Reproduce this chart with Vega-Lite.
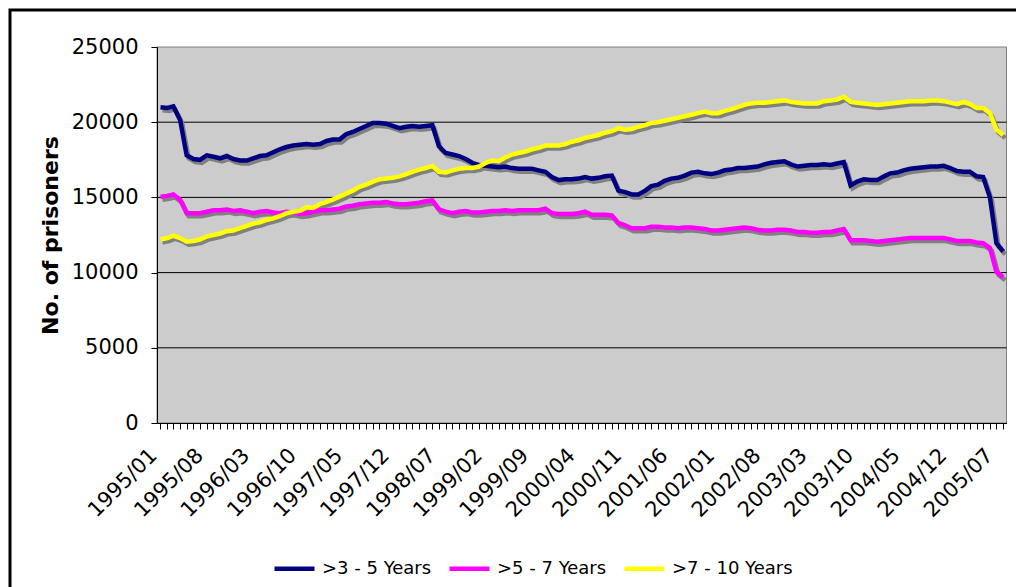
{
  "$schema": "https://vega.github.io/schema/vega-lite/v6.json",
  "width": 1030,
  "height": 600,
  "padding": {"left": 10, "top": 10, "right": 0, "bottom": 0},
  "config": {
    "font": "DejaVu Sans",
    "view": {"stroke": "#000000", "strokeWidth": 3, "fill": "#ffffff"}
  },
  "datasets": {
    "gridlines": [{"level": 5000}, {"level": 10000}, {"level": 15000}, {"level": 20000}],
    "prisoners": [
      {"month":"1995-01",">3 - 5 Years":21000,">5 - 7 Years":15050,">7 - 10 Years":12200},
      {"month":"1995-02",">3 - 5 Years":20950,">5 - 7 Years":15100,">7 - 10 Years":12300},
      {"month":"1995-03",">3 - 5 Years":21050,">5 - 7 Years":15200,">7 - 10 Years":12450},
      {"month":"1995-04",">3 - 5 Years":20150,">5 - 7 Years":14850,">7 - 10 Years":12300},
      {"month":"1995-05",">3 - 5 Years":17800,">5 - 7 Years":13950,">7 - 10 Years":12050},
      {"month":"1995-06",">3 - 5 Years":17550,">5 - 7 Years":13950,">7 - 10 Years":12100},
      {"month":"1995-07",">3 - 5 Years":17500,">5 - 7 Years":13950,">7 - 10 Years":12200},
      {"month":"1995-08",">3 - 5 Years":17800,">5 - 7 Years":14050,">7 - 10 Years":12400},
      {"month":"1995-09",">3 - 5 Years":17700,">5 - 7 Years":14150,">7 - 10 Years":12500},
      {"month":"1995-10",">3 - 5 Years":17600,">5 - 7 Years":14150,">7 - 10 Years":12600},
      {"month":"1995-11",">3 - 5 Years":17750,">5 - 7 Years":14200,">7 - 10 Years":12750},
      {"month":"1995-12",">3 - 5 Years":17550,">5 - 7 Years":14100,">7 - 10 Years":12800},
      {"month":"1996-01",">3 - 5 Years":17450,">5 - 7 Years":14150,">7 - 10 Years":12950},
      {"month":"1996-02",">3 - 5 Years":17450,">5 - 7 Years":14050,">7 - 10 Years":13100},
      {"month":"1996-03",">3 - 5 Years":17600,">5 - 7 Years":13950,">7 - 10 Years":13250},
      {"month":"1996-04",">3 - 5 Years":17750,">5 - 7 Years":14050,">7 - 10 Years":13350},
      {"month":"1996-05",">3 - 5 Years":17800,">5 - 7 Years":14100,">7 - 10 Years":13500},
      {"month":"1996-06",">3 - 5 Years":18000,">5 - 7 Years":14000,">7 - 10 Years":13600},
      {"month":"1996-07",">3 - 5 Years":18200,">5 - 7 Years":13950,">7 - 10 Years":13750},
      {"month":"1996-08",">3 - 5 Years":18350,">5 - 7 Years":14050,">7 - 10 Years":13950},
      {"month":"1996-09",">3 - 5 Years":18450,">5 - 7 Years":14000,">7 - 10 Years":14050},
      {"month":"1996-10",">3 - 5 Years":18500,">5 - 7 Years":13900,">7 - 10 Years":14100},
      {"month":"1996-11",">3 - 5 Years":18550,">5 - 7 Years":13950,">7 - 10 Years":14350},
      {"month":"1996-12",">3 - 5 Years":18500,">5 - 7 Years":14050,">7 - 10 Years":14300},
      {"month":"1997-01",">3 - 5 Years":18550,">5 - 7 Years":14150,">7 - 10 Years":14550},
      {"month":"1997-02",">3 - 5 Years":18750,">5 - 7 Years":14150,">7 - 10 Years":14700},
      {"month":"1997-03",">3 - 5 Years":18850,">5 - 7 Years":14200,">7 - 10 Years":14850},
      {"month":"1997-04",">3 - 5 Years":18850,">5 - 7 Years":14250,">7 - 10 Years":15050},
      {"month":"1997-05",">3 - 5 Years":19200,">5 - 7 Years":14400,">7 - 10 Years":15250},
      {"month":"1997-06",">3 - 5 Years":19350,">5 - 7 Years":14450,">7 - 10 Years":15450},
      {"month":"1997-07",">3 - 5 Years":19550,">5 - 7 Years":14550,">7 - 10 Years":15700},
      {"month":"1997-08",">3 - 5 Years":19750,">5 - 7 Years":14600,">7 - 10 Years":15850},
      {"month":"1997-09",">3 - 5 Years":19950,">5 - 7 Years":14650,">7 - 10 Years":16050},
      {"month":"1997-10",">3 - 5 Years":19950,">5 - 7 Years":14650,">7 - 10 Years":16200},
      {"month":"1997-11",">3 - 5 Years":19900,">5 - 7 Years":14700,">7 - 10 Years":16250},
      {"month":"1997-12",">3 - 5 Years":19750,">5 - 7 Years":14600,">7 - 10 Years":16300},
      {"month":"1998-01",">3 - 5 Years":19600,">5 - 7 Years":14550,">7 - 10 Years":16400},
      {"month":"1998-02",">3 - 5 Years":19700,">5 - 7 Years":14550,">7 - 10 Years":16550},
      {"month":"1998-03",">3 - 5 Years":19750,">5 - 7 Years":14600,">7 - 10 Years":16700},
      {"month":"1998-04",">3 - 5 Years":19700,">5 - 7 Years":14650,">7 - 10 Years":16850},
      {"month":"1998-05",">3 - 5 Years":19750,">5 - 7 Years":14750,">7 - 10 Years":16950},
      {"month":"1998-06",">3 - 5 Years":19800,">5 - 7 Years":14800,">7 - 10 Years":17100},
      {"month":"1998-07",">3 - 5 Years":18400,">5 - 7 Years":14200,">7 - 10 Years":16700},
      {"month":"1998-08",">3 - 5 Years":17950,">5 - 7 Years":14050,">7 - 10 Years":16650},
      {"month":"1998-09",">3 - 5 Years":17850,">5 - 7 Years":13950,">7 - 10 Years":16800},
      {"month":"1998-10",">3 - 5 Years":17750,">5 - 7 Years":14050,">7 - 10 Years":16900},
      {"month":"1998-11",">3 - 5 Years":17550,">5 - 7 Years":14100,">7 - 10 Years":16950},
      {"month":"1998-12",">3 - 5 Years":17300,">5 - 7 Years":14000,">7 - 10 Years":16950},
      {"month":"1999-01",">3 - 5 Years":17150,">5 - 7 Years":14000,">7 - 10 Years":17050},
      {"month":"1999-02",">3 - 5 Years":17100,">5 - 7 Years":14050,">7 - 10 Years":17300},
      {"month":"1999-03",">3 - 5 Years":17050,">5 - 7 Years":14100,">7 - 10 Years":17450},
      {"month":"1999-04",">3 - 5 Years":17000,">5 - 7 Years":14100,">7 - 10 Years":17400},
      {"month":"1999-05",">3 - 5 Years":17050,">5 - 7 Years":14150,">7 - 10 Years":17650},
      {"month":"1999-06",">3 - 5 Years":16950,">5 - 7 Years":14100,">7 - 10 Years":17850},
      {"month":"1999-07",">3 - 5 Years":16900,">5 - 7 Years":14150,">7 - 10 Years":17950},
      {"month":"1999-08",">3 - 5 Years":16900,">5 - 7 Years":14150,">7 - 10 Years":18050},
      {"month":"1999-09",">3 - 5 Years":16900,">5 - 7 Years":14150,">7 - 10 Years":18200},
      {"month":"1999-10",">3 - 5 Years":16800,">5 - 7 Years":14150,">7 - 10 Years":18300},
      {"month":"1999-11",">3 - 5 Years":16700,">5 - 7 Years":14250,">7 - 10 Years":18450},
      {"month":"1999-12",">3 - 5 Years":16350,">5 - 7 Years":13950,">7 - 10 Years":18450},
      {"month":"2000-01",">3 - 5 Years":16150,">5 - 7 Years":13900,">7 - 10 Years":18450},
      {"month":"2000-02",">3 - 5 Years":16200,">5 - 7 Years":13900,">7 - 10 Years":18550},
      {"month":"2000-03",">3 - 5 Years":16200,">5 - 7 Years":13900,">7 - 10 Years":18700},
      {"month":"2000-04",">3 - 5 Years":16250,">5 - 7 Years":13950,">7 - 10 Years":18800},
      {"month":"2000-05",">3 - 5 Years":16350,">5 - 7 Years":14050,">7 - 10 Years":18950},
      {"month":"2000-06",">3 - 5 Years":16250,">5 - 7 Years":13850,">7 - 10 Years":19050},
      {"month":"2000-07",">3 - 5 Years":16300,">5 - 7 Years":13850,">7 - 10 Years":19150},
      {"month":"2000-08",">3 - 5 Years":16400,">5 - 7 Years":13850,">7 - 10 Years":19300},
      {"month":"2000-09",">3 - 5 Years":16450,">5 - 7 Years":13800,">7 - 10 Years":19400},
      {"month":"2000-10",">3 - 5 Years":15450,">5 - 7 Years":13300,">7 - 10 Years":19600},
      {"month":"2000-11",">3 - 5 Years":15350,">5 - 7 Years":13150,">7 - 10 Years":19500},
      {"month":"2000-12",">3 - 5 Years":15200,">5 - 7 Years":12950,">7 - 10 Years":19550},
      {"month":"2001-01",">3 - 5 Years":15200,">5 - 7 Years":12950,">7 - 10 Years":19700},
      {"month":"2001-02",">3 - 5 Years":15450,">5 - 7 Years":12950,">7 - 10 Years":19800},
      {"month":"2001-03",">3 - 5 Years":15750,">5 - 7 Years":13050,">7 - 10 Years":19950},
      {"month":"2001-04",">3 - 5 Years":15850,">5 - 7 Years":13050,">7 - 10 Years":20000},
      {"month":"2001-05",">3 - 5 Years":16100,">5 - 7 Years":13000,">7 - 10 Years":20100},
      {"month":"2001-06",">3 - 5 Years":16250,">5 - 7 Years":13000,">7 - 10 Years":20200},
      {"month":"2001-07",">3 - 5 Years":16300,">5 - 7 Years":12950,">7 - 10 Years":20300},
      {"month":"2001-08",">3 - 5 Years":16450,">5 - 7 Years":13000,">7 - 10 Years":20400},
      {"month":"2001-09",">3 - 5 Years":16650,">5 - 7 Years":13000,">7 - 10 Years":20500},
      {"month":"2001-10",">3 - 5 Years":16700,">5 - 7 Years":12950,">7 - 10 Years":20600},
      {"month":"2001-11",">3 - 5 Years":16600,">5 - 7 Years":12900,">7 - 10 Years":20700},
      {"month":"2001-12",">3 - 5 Years":16550,">5 - 7 Years":12800,">7 - 10 Years":20600},
      {"month":"2002-01",">3 - 5 Years":16650,">5 - 7 Years":12800,">7 - 10 Years":20600},
      {"month":"2002-02",">3 - 5 Years":16800,">5 - 7 Years":12850,">7 - 10 Years":20750},
      {"month":"2002-03",">3 - 5 Years":16850,">5 - 7 Years":12900,">7 - 10 Years":20850},
      {"month":"2002-04",">3 - 5 Years":16950,">5 - 7 Years":12950,">7 - 10 Years":21000},
      {"month":"2002-05",">3 - 5 Years":16950,">5 - 7 Years":13000,">7 - 10 Years":21150},
      {"month":"2002-06",">3 - 5 Years":17000,">5 - 7 Years":12950,">7 - 10 Years":21250},
      {"month":"2002-07",">3 - 5 Years":17050,">5 - 7 Years":12850,">7 - 10 Years":21300},
      {"month":"2002-08",">3 - 5 Years":17200,">5 - 7 Years":12800,">7 - 10 Years":21300},
      {"month":"2002-09",">3 - 5 Years":17300,">5 - 7 Years":12800,">7 - 10 Years":21350},
      {"month":"2002-10",">3 - 5 Years":17350,">5 - 7 Years":12850,">7 - 10 Years":21400},
      {"month":"2002-11",">3 - 5 Years":17400,">5 - 7 Years":12850,">7 - 10 Years":21450},
      {"month":"2002-12",">3 - 5 Years":17200,">5 - 7 Years":12800,">7 - 10 Years":21350},
      {"month":"2003-01",">3 - 5 Years":17050,">5 - 7 Years":12700,">7 - 10 Years":21300},
      {"month":"2003-02",">3 - 5 Years":17100,">5 - 7 Years":12700,">7 - 10 Years":21250},
      {"month":"2003-03",">3 - 5 Years":17150,">5 - 7 Years":12650,">7 - 10 Years":21250},
      {"month":"2003-04",">3 - 5 Years":17150,">5 - 7 Years":12650,">7 - 10 Years":21250},
      {"month":"2003-05",">3 - 5 Years":17200,">5 - 7 Years":12700,">7 - 10 Years":21400},
      {"month":"2003-06",">3 - 5 Years":17150,">5 - 7 Years":12700,">7 - 10 Years":21450},
      {"month":"2003-07",">3 - 5 Years":17250,">5 - 7 Years":12800,">7 - 10 Years":21500},
      {"month":"2003-08",">3 - 5 Years":17350,">5 - 7 Years":12900,">7 - 10 Years":21700},
      {"month":"2003-09",">3 - 5 Years":15800,">5 - 7 Years":12150,">7 - 10 Years":21350},
      {"month":"2003-10",">3 - 5 Years":16050,">5 - 7 Years":12150,">7 - 10 Years":21300},
      {"month":"2003-11",">3 - 5 Years":16200,">5 - 7 Years":12150,">7 - 10 Years":21250},
      {"month":"2003-12",">3 - 5 Years":16150,">5 - 7 Years":12100,">7 - 10 Years":21200},
      {"month":"2004-01",">3 - 5 Years":16150,">5 - 7 Years":12050,">7 - 10 Years":21150},
      {"month":"2004-02",">3 - 5 Years":16400,">5 - 7 Years":12100,">7 - 10 Years":21200},
      {"month":"2004-03",">3 - 5 Years":16600,">5 - 7 Years":12150,">7 - 10 Years":21250},
      {"month":"2004-04",">3 - 5 Years":16650,">5 - 7 Years":12200,">7 - 10 Years":21300},
      {"month":"2004-05",">3 - 5 Years":16800,">5 - 7 Years":12250,">7 - 10 Years":21350},
      {"month":"2004-06",">3 - 5 Years":16900,">5 - 7 Years":12300,">7 - 10 Years":21400},
      {"month":"2004-07",">3 - 5 Years":16950,">5 - 7 Years":12300,">7 - 10 Years":21400},
      {"month":"2004-08",">3 - 5 Years":17000,">5 - 7 Years":12300,">7 - 10 Years":21400},
      {"month":"2004-09",">3 - 5 Years":17050,">5 - 7 Years":12300,">7 - 10 Years":21450},
      {"month":"2004-10",">3 - 5 Years":17050,">5 - 7 Years":12300,">7 - 10 Years":21450},
      {"month":"2004-11",">3 - 5 Years":17100,">5 - 7 Years":12300,">7 - 10 Years":21400},
      {"month":"2004-12",">3 - 5 Years":16950,">5 - 7 Years":12200,">7 - 10 Years":21300},
      {"month":"2005-01",">3 - 5 Years":16750,">5 - 7 Years":12100,">7 - 10 Years":21200},
      {"month":"2005-02",">3 - 5 Years":16700,">5 - 7 Years":12100,">7 - 10 Years":21350},
      {"month":"2005-03",">3 - 5 Years":16700,">5 - 7 Years":12100,">7 - 10 Years":21200},
      {"month":"2005-04",">3 - 5 Years":16400,">5 - 7 Years":12000,">7 - 10 Years":20950},
      {"month":"2005-05",">3 - 5 Years":16350,">5 - 7 Years":11950,">7 - 10 Years":20950},
      {"month":"2005-06",">3 - 5 Years":15000,">5 - 7 Years":11650,">7 - 10 Years":20600},
      {"month":"2005-07",">3 - 5 Years":11950,">5 - 7 Years":10050,">7 - 10 Years":19500},
      {"month":"2005-08",">3 - 5 Years":11400,">5 - 7 Years":9700,">7 - 10 Years":19150}
    ]
  },
  "layer": [
    {
      "data": {"values": [{}]},
      "mark": {"type": "rect", "fill": "#CCCCCC", "stroke": "#808080", "strokeWidth": 1},
      "encoding": {
        "x": {"datum": {"year": 1994, "month": 12, "date": 16, "utc": true}, "type": "temporal",
              "scale": {"type": "utc", "domain": [{"year": 1994, "month": 12, "date": 16, "utc": true}, {"year": 2005, "month": 8, "date": 16, "utc": true}], "range": [147, 996.5]}},
        "x2": {"datum": {"year": 2005, "month": 8, "date": 16, "utc": true}},
        "y": {"datum": 0, "type": "quantitative", "scale": {"domain": [0, 25000], "range": [413, 37], "nice": false}},
        "y2": {"datum": 25000}
      }
    },
    {
      "data": {"name": "gridlines"},
      "mark": {"type": "rule", "color": "#000000", "strokeWidth": 1},
      "encoding": {
        "y": {"field": "level", "type": "quantitative"},
        "x": {"datum": {"year": 1994, "month": 12, "date": 16, "utc": true}, "type": "temporal"},
        "x2": {"datum": {"year": 2005, "month": 8, "date": 16, "utc": true}}
      }
    },
    {
      "data": {"name": "prisoners", "format": {"parse": {"month": "utc:'%Y-%m'"}}},
      "transform": [{"fold": [">3 - 5 Years", ">5 - 7 Years", ">7 - 10 Years"], "as": ["series", "value"]}],
      "layer": [
        {
          "mark": {"type": "line", "color": "#808080", "strokeWidth": 4.5, "xOffset": 2, "yOffset": 3},
          "encoding": {
            "x": {"field": "month", "type": "temporal"},
            "y": {"field": "value", "type": "quantitative"},
            "detail": {"field": "series", "type": "nominal"}
          }
        },
        {
          "mark": {"type": "line", "strokeWidth": 4.5},
          "encoding": {
            "x": {"field": "month", "type": "temporal",
                  "axis": {"title": null, "orient": "bottom", "offset": -187, "grid": false, "zindex": 1,
                           "tickCount": {"interval": "month", "step": 1},
                           "labelExpr": "(utcyear(datum.value) * 12 + utcmonth(datum.value) - 23940) % 7 == 0 ? utcFormat(datum.value, '%Y/%m') : ''",
                           "labelAngle": -45, "labelAlign": "right", "labelBaseline": "bottom", "labelFontSize": 21, "labelColor": "#000000",
                           "labelOverlap": false, "labelFlush": false, "labelBound": false,
                           "labelPadding": 30, "tickSize": 6, "tickColor": "#000000", "domainColor": "#000000"}},
            "y": {"field": "value", "type": "quantitative",
                  "axis": {"title": "No. of prisoners", "offset": -147, "grid": false, "zindex": 1,
                           "values": [0, 5000, 10000, 15000, 20000, 25000], "format": "d",
                           "labelFontSize": 21, "labelColor": "#000000", "labelPadding": 13,
                           "tickSize": 6, "tickColor": "#000000", "domainColor": "#000000",
                           "titleFontSize": 22, "titleFontWeight": "bold", "titleColor": "#000000", "titlePadding": 9}},
            "color": {"field": "series", "type": "nominal",
                      "scale": {"domain": [">3 - 5 Years", ">5 - 7 Years", ">7 - 10 Years"], "range": ["#000080", "#FF00FF", "#FFFF00"]},
                      "legend": {"title": null, "orient": "none", "legendX": 262, "legendY": 536, "direction": "horizontal",
                                 "symbolType": "stroke", "symbolSize": 1600, "symbolStrokeWidth": 4.5,
                                 "labelFontSize": 18, "labelColor": "#000000", "columnPadding": 8, "labelOffset": 5, "padding": 0}}
          }
        }
      ]
    }
  ]
}
